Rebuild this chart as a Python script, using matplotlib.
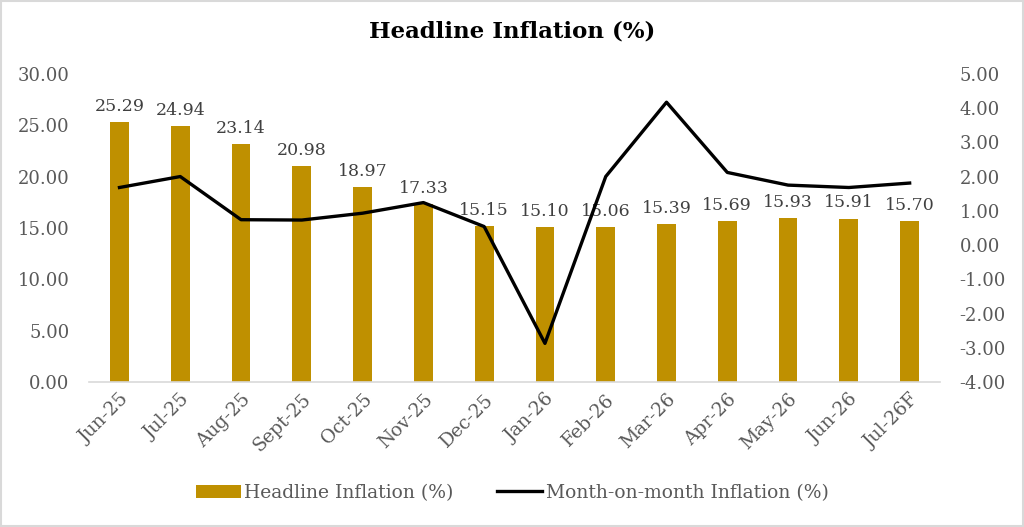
import matplotlib
matplotlib.use("Agg")
import matplotlib.pyplot as plt
from matplotlib.patches import Rectangle

categories = ["Jun-25", "Jul-25", "Aug-25", "Sept-25", "Oct-25", "Nov-25", "Dec-25",
              "Jan-26", "Feb-26", "Mar-26", "Apr-26", "May-26", "Jun-26", "Jul-26F"]
headline = [25.29, 24.94, 23.14, 20.98, 18.97, 17.33, 15.15,
            15.10, 15.06, 15.39, 15.69, 15.93, 15.91, 15.70]
mom = [1.68, 2.00, 0.74, 0.73, 0.93, 1.24, 0.54,
       -2.87, 2.00, 4.17, 2.12, 1.75, 1.68, 1.81]
left_ticks = [0, 5, 10, 15, 20, 25, 30]
right_ticks = [-4, -3, -2, -1, 0, 1, 2, 3, 4, 5]

SERIF = ["DejaVu Serif"]
TXT = "#595959"

fig = plt.figure(figsize=(10.24, 5.27), dpi=100)
ax = fig.add_axes([0.087, 0.275, 0.831, 0.585])
ax2 = ax.twinx()

x = list(range(len(categories)))
ax.bar(x, headline, width=0.31, color="#BF9000", label="Headline Inflation (%)", zorder=2)
for xi, v in zip(x, headline):
    ax.text(xi, v + 0.7, f"{v:.2f}", ha="center", va="bottom", fontsize=12.5,
            color="#404040", family=SERIF, zorder=5)

ax2.plot(x, mom, color="black", lw=2.4, label="Month-on-month Inflation (%)", zorder=3)

ax.set_xlim(-0.5, len(categories) - 0.5)
ax.set_ylim(0, 30)
ax2.set_ylim(-4, 5)
ax.set_yticks(left_ticks)
ax.set_yticklabels([f"{t:.2f}" for t in left_ticks])
ax2.set_yticks(right_ticks)
ax2.set_yticklabels([f"{t:.2f}" for t in right_ticks])
ax.set_xticks(x)
ax.set_xticklabels(categories, rotation=45, ha="right", rotation_mode="anchor")

for a in (ax, ax2):
    for s in a.spines.values():
        s.set_visible(False)
    a.tick_params(length=0, colors=TXT, labelsize=13)
    for lab in a.get_yticklabels() + a.get_xticklabels():
        lab.set_family(SERIF)
ax.spines["bottom"].set_visible(True)
ax.spines["bottom"].set_color("#D9D9D9")
ax.spines["bottom"].set_linewidth(1.2)
ax.tick_params(axis="y", pad=14)
ax2.tick_params(axis="y", pad=14)
ax.tick_params(axis="x", pad=6)
for lab in ax.get_xticklabels():
    lab.set_fontsize(13.5)

ax2.set_zorder(ax.get_zorder() + 1)
ax2.patch.set_visible(False)

fig.text(0.5, 0.94, "Headline Inflation (%)", ha="center", va="center",
         fontsize=16.5, fontweight="bold", family=SERIF, color="black")

h1, l1 = ax.get_legend_handles_labels()
h2, l2 = ax2.get_legend_handles_labels()
leg = fig.legend(h1 + h2, l1 + l2, loc="center", bbox_to_anchor=(0.5, 0.065), ncol=2,
                 frameon=False, prop={"family": "DejaVu Serif", "size": 13.5},
                 handlelength=2.4, columnspacing=2.3, handletextpad=0.2)
for t in leg.get_texts():
    t.set_color(TXT)

fig.patches.append(Rectangle((0.001, 0.001), 0.998, 0.997, transform=fig.transFigure,
                             fill=False, edgecolor="#D9D9D9", lw=1.5))

fig.savefig("out.png", dpi=100)
